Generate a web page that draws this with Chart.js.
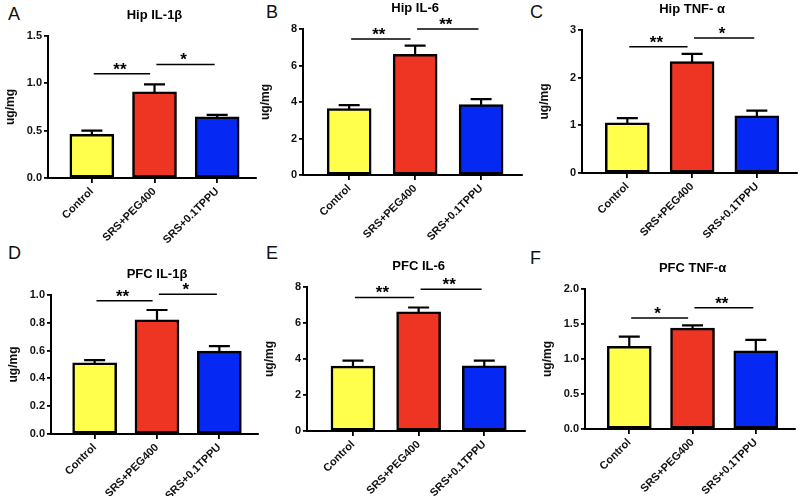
<!DOCTYPE html>
<html><head><meta charset="utf-8">
<script src="https://cdn.jsdelivr.net/npm/chart.js@4/dist/chart.umd.min.js"></script>
<style>
html,body{margin:0;padding:0;background:#fff;width:800px;height:496px;overflow:hidden;position:relative;font-family:'Liberation Sans',Arial,sans-serif}
.pn{position:absolute}
.lt{position:absolute;font-size:18px;line-height:18px;color:#111;font-family:'Liberation Sans',Arial,sans-serif}
</style></head><body>
<script>
// ---- data ----
const categories = ['Control', 'SRS+PEG400', 'SRS+0.1TPPU'];
const titles = ['Hip IL-1β', 'Hip IL-6', 'Hip TNF- α', 'PFC IL-1β', 'PFC IL-6', 'PFC TNF-α'];
const letters = ['A', 'B', 'C', 'D', 'E', 'F'];
const yAxisTitle = 'ug/mg';

const hipIL1bMean = [0.46, 0.91, 0.647];
const hipIL1bSem  = [0.04, 0.078, 0.02];
const hipIL6Mean  = [3.64, 6.61, 3.86];
const hipIL6Sem   = [0.19, 0.48, 0.30];
const hipTNFMean  = [1.05, 2.34, 1.20];
const hipTNFSem   = [0.10, 0.16, 0.11];
const pfcIL1bMean = [0.512, 0.822, 0.596];
const pfcIL1bSem  = [0.02, 0.07, 0.036];
const pfcIL6Mean  = [3.60, 6.62, 3.62];
const pfcIL6Sem   = [0.31, 0.24, 0.29];
const pfcTNFMean  = [1.18, 1.44, 1.117];
const pfcTNFSem   = [0.14, 0.04, 0.157];

const yMax  = [1.5, 8, 3, 1.0, 8, 2.0];
const yStep = [0.5, 2, 1, 0.2, 2, 0.5];
const yDecimals = [1, 0, 0, 1, 0, 1];

// significance bracket heights (data units) and labels: [left pair, right pair]
const sigLevels = [[1.10, 1.20], [7.45, 8.0], [2.65, 2.83], [0.959, 1.005], [7.42, 7.87], [1.585, 1.733]];
const sigMarks  = [['**', '*'], ['**', '**'], ['**', '*'], ['**', '*'], ['**', '**'], ['*', '**']];

const means = [hipIL1bMean, hipIL6Mean, hipTNFMean, pfcIL1bMean, pfcIL6Mean, pfcTNFMean];
const sems  = [hipIL1bSem, hipIL6Sem, hipTNFSem, pfcIL1bSem, pfcIL6Sem, pfcTNFSem];

// ---- layout / style ----
const barColors = ['#ffff4c', '#ee3524', '#0528f2'];
const geo = [
  {ax: 48,  top: 36,  bot: 178, right: 256},
  {ax: 303, top: 29,  bot: 175, right: 522},
  {ax: 582, top: 30,  bot: 173, right: 797},
  {ax: 51,  top: 295, bot: 434, right: 258},
  {ax: 307, top: 287, bot: 431, right: 525},
  {ax: 585, top: 289, bot: 429, right: 795}
];
const letterPos = [[8, 5], [266, 3], [530, 3], [8, 244], [266, 244], [530, 249]];
const bracketSpans = [[1.03, 1.93], [2.03, 2.96]];
const FONT = "'Liberation Sans', Arial, sans-serif";

letters.forEach((L, i) => {
  const s = document.createElement('div');
  s.className = 'lt'; s.textContent = L;
  s.style.left = letterPos[i][0] + 'px'; s.style.top = letterPos[i][1] + 'px';
  document.body.appendChild(s);
});

function makePanel(i) {
  const g = geo[i];
  const left = g.ax - 48, top = g.top - 36;
  const w = g.right - left + 10, h = g.bot - top + 70;
  const wrap = document.createElement('div');
  wrap.className = 'pn';
  wrap.style.left = left + 'px'; wrap.style.top = top + 'px';
  wrap.style.width = w + 'px'; wrap.style.height = h + 'px';
  const cv = document.createElement('canvas');
  cv.width = w; cv.height = h; cv.style.width = w + 'px'; cv.style.height = h + 'px';
  wrap.appendChild(cv); document.body.appendChild(wrap);

  const extras = {
    id: 'extras' + i,
    afterDatasetsDraw(chart) {
      const {ctx, scales: {x, y}, chartArea} = chart;
      ctx.save();
      // error bars
      ctx.strokeStyle = '#000'; ctx.lineWidth = 2.2;
      means[i].forEach((v, k) => {
        const px = x.getPixelForValue(k + 1);
        const y0 = y.getPixelForValue(v) + 1;
        const y1 = y.getPixelForValue(v + sems[i][k]);
        ctx.beginPath();
        ctx.moveTo(px, y0); ctx.lineTo(px, y1);
        ctx.moveTo(px - 10.5, y1); ctx.lineTo(px + 10.5, y1);
        ctx.stroke();
      });
      // significance brackets
      ctx.lineWidth = 1.5; ctx.fillStyle = '#000';
      ctx.font = 'bold 17px ' + FONT; ctx.textAlign = 'center'; ctx.textBaseline = 'alphabetic';
      sigLevels[i].forEach((lv, k) => {
        const yy = y.getPixelForValue(lv);
        const xa = x.getPixelForValue(bracketSpans[k][0]);
        const xb = x.getPixelForValue(bracketSpans[k][1]);
        ctx.beginPath(); ctx.moveTo(xa, yy); ctx.lineTo(xb, yy); ctx.stroke();
        ctx.fillText(sigMarks[i][k], (xa + xb) / 2 - 2, yy + 1);
      });
      // panel title
      ctx.font = 'bold 13px ' + FONT; ctx.textBaseline = 'middle';
      ctx.fillText(titles[i], x.getPixelForValue(2), chartArea.top - 21);
      ctx.restore();
    }
  };

  const tickFont = {family: FONT, size: 11, weight: 'bold'};
  new Chart(cv, {
    type: 'bar',
    data: {
      datasets: [{
        data: means[i].map((v, k) => ({x: k + 1, y: v})),
        backgroundColor: barColors,
        borderColor: '#000', borderWidth: 2.5, borderSkipped: false,
        barThickness: 44
      }]
    },
    options: {
      responsive: false, animation: false,
      layout: {padding: {left: 0, top: 36, right: 10, bottom: 0}},
      plugins: {legend: {display: false}, tooltip: {enabled: false}, title: {display: false}},
      scales: {
        x: {
          type: 'linear', min: 0.3, max: 3.62, offset: false,
          afterBuildTicks: s => { s.ticks = categories.map((c, k) => ({value: k + 1})); },
          ticks: {callback: v => categories[v - 1], autoSkip: false, maxRotation: 45, minRotation: 45,
                  padding: 2, color: '#111', font: tickFont},
          grid: {display: true, offset: false, drawOnChartArea: false, drawTicks: true, tickLength: 5, color: '#000', lineWidth: 1.8},
          border: {display: true, color: '#000', width: 2},
          afterFit: s => { s.height = 70; }
        },
        y: {
          min: 0, max: yMax[i],
          ticks: {stepSize: yStep[i], callback: v => Number(v).toFixed(yDecimals[i]), padding: 2, color: '#111', font: tickFont},
          grid: {display: true, drawOnChartArea: false, drawTicks: true, tickLength: 4, color: '#000', lineWidth: 1.8},
          border: {display: true, color: '#000', width: 2},
          title: {display: true, text: yAxisTitle, color: '#111', font: {family: FONT, size: 12, weight: 'bold'}, padding: {top: 3, bottom: 0}},
          afterFit: s => { s.width = 48; }
        }
      }
    },
    plugins: [extras]
  });
}
for (let i = 0; i < 6; i++) makePanel(i);
</script>
</body></html>
